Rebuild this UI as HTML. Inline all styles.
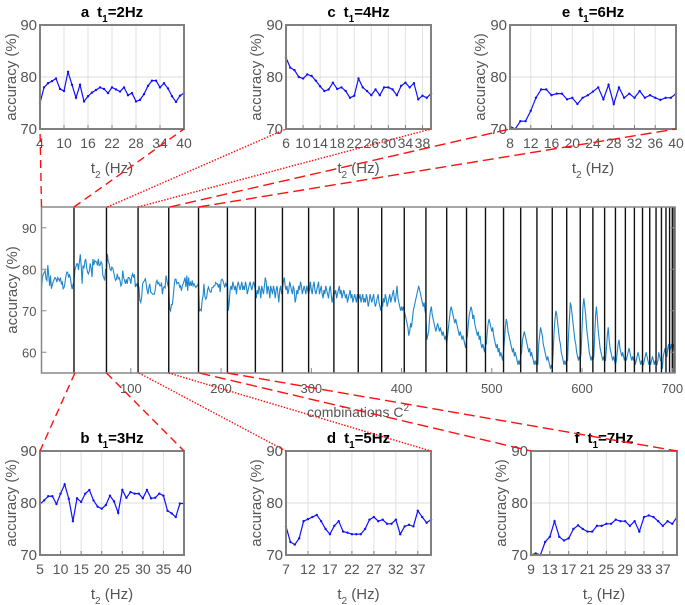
<!DOCTYPE html>
<html><head><meta charset="utf-8"><style>
html,body{margin:0;padding:0;background:#fff;}
svg{display:block;font-family:"Liberation Sans",Arial,sans-serif;}
</style></head><body>
<svg id="fig" width="685" height="605" viewBox="0 0 685 605" xmlns="http://www.w3.org/2000/svg"></svg>
<script>
// ---- panel data (t2 sweeps) ----
const panelA = [75,78,78.8,79.2,79.7,77.7,77.3,81,78.5,76,78.5,75.3,76.3,77,77.5,78,77.7,76.9,78,77.6,77.2,78,76.5,76.9,75.3,75.6,76.7,78.3,79.3,79.3,78,78.8,77.8,76.3,75.2,76.4,76.9];
const panelB = [79.8,80.5,81.3,81.3,79.8,81.8,83.6,80.8,76.5,80.9,80.2,81.8,82.5,80.5,79.3,78.9,79.6,81.4,80.3,78.1,82.5,81,82.1,81.8,81.8,80.9,82.5,80.9,81,81.8,81.4,78.5,78,77.3,79.9,79.9];
const panelC = [83.7,81.8,81.3,80,79.7,80.5,80.2,79.3,78.2,77.3,77.6,78.9,77.7,78,77.3,76,76.4,79.7,78,77.3,76.5,77.6,76.5,78,78,77.6,76.5,78.3,78.9,78,78.8,75.7,76.4,76,76.8];
const panelD = [75.5,72.5,72,73.2,76.5,76.9,77.3,77.7,76.5,75,74,75.6,76.5,74.5,74.3,74,74,74,75,76.8,77.3,76.5,76.8,76,76,76.8,74,75.5,75.8,75.5,78.5,77.3,76.2,76.8];
const panelE = [70.5,70,71.5,71.5,73.5,76,77.6,77.6,76.5,76.8,76.8,75.7,76,74.8,76,76.5,77.2,78,75.7,78.5,74.8,78,76,76.8,76,77.3,76,76.5,76,75.6,76,76,76.8];
const panelF = [70,70.3,70,72.5,73.5,76.5,73.5,72.8,73.2,75,75.7,75,74.5,74.5,75.6,75.6,76,76,76.8,76.5,76.5,75.6,76.5,74.5,77.3,77.6,77.3,76.5,75.6,76.5,76,77.3];
// ---- remaining blocks of the main series (t1 = 8 .. 38) ----
const block8 = [70,72,75,76,75,77,76,75,76,74,76,77,76,75,76,77,75,76,75,77,76,74,75,76,77,76,75,76,77,76,75];
const block9 = [73,75,74,76,75,73,76,75,74,76,78,77,74,76,75,73,76,75,74,76,75,73,75,76,74,72,75,76,74,75];
const block10 = [77,78,76,75,76,74,75,77,76,75,74,76,75,72,73,75,74,76,75,77,76,74,75,76,75,74,76,75,74];
const block11 = [75,77,75,74,76,77,75,74,75,76,77,74,75,76,74,73,75,74,76,75,74,73,75,76,74,72,73,75];
const block12 = [74,75,73,74,75,76,74,75,73,74,75,74,73,74,72,73,74,75,73,74,72,73,74,73,72,74,73];
const block13 = [73,74,72,73,74,72,73,72,74,73,71,72,74,73,72,73,74,72,71,72,73,74,72,71,70,72];
const block14 = [71,73,72,74,73,71,72,73,74,72,73,74,75,73,72,74,76,73,72,71,70,71,70,71,70];
const block15 = [69,68,67,66,64,65,67,66,68,70,71,72,73,74,75,76,75,74,73,72,71,72,70,69];
const block16 = [63,64,65,68,70,71,69,68,67,66,65,66,67,66,65,66,65,64,65,64,63,64,62];
const block17 = [64,66,68,70,71,70,69,68,67,68,67,66,65,64,65,64,63,64,63,62,61,63];
const block18 = [64,67,69,70,71,70,68,69,67,66,65,64,65,63,64,62,61,62,61,60,62];
const block19 = [62,65,67,68,67,66,65,66,64,63,62,61,62,60,61,59,60,59,58,60];
const block20 = [63,66,68,67,65,64,63,62,61,60,61,59,60,59,58,57,58,57,59];
const block21 = [60,63,64,65,64,63,62,61,60,61,59,60,59,58,57,58,57,58];
const block22 = [57,62,64,66,65,64,62,61,60,59,58,59,58,57,56,57,56];
const block23 = [60,65,68,70,69,67,65,63,62,60,59,58,57,58,57,58];
const block24 = [58,64,68,72,71,69,67,65,63,62,60,59,58,59,58];
const block25 = [60,66,71,73,71,69,66,64,62,60,59,58,59,58];
const block26 = [59,64,69,71,68,65,63,61,60,59,58,59,58];
const block27 = [58,61,64,66,63,61,60,59,58,59,58,57];
const block28 = [58,60,62,63,61,60,59,60,59,58,59];
const block29 = [58,59,60,61,60,59,58,59,58,59];
const block30 = [57,58,59,60,59,58,57,58,57];
const block31 = [57,58,59,60,59,58,57,58];
const block32 = [57,58,59,58,57,58,57];
const block33 = [57,58,60,59,58,58];
const block34 = [56,59,60,61,59];
const block35 = [59,61,62,60];
const block36 = [61,62,60];
const block37 = [62,61];
const block38 = [60];
const mainXTicks = [100,200,300,400,500,600,700];
const mainYTicks = [60,70,80,90];
const panelYTicks = [70,80,90];

const blocks = [panelA,panelB,panelC,panelD,panelE,panelF,block8,block9,block10,block11,block12,block13,block14,block15,block16,block17,block18,block19,block20,block21,block22,block23,block24,block25,block26,block27,block28,block29,block30,block31,block32,block33,block34,block35,block36,block37,block38];

const NS="http://www.w3.org/2000/svg";
const svg=document.getElementById('fig');
function mk(tag,attrs,parent){const e=document.createElementNS(NS,tag);for(const k in attrs)e.setAttribute(k,attrs[k]);(parent||svg).appendChild(e);return e;}

const mainSeries=[];const cum=[];let c=0;
blocks.forEach(b=>{b.forEach(v=>mainSeries.push(v));c+=b.length;cum.push(c);});
const N=mainSeries.length;
const M={l:41.5,r:675,t:207,b:373,xmin:1,xmax:N,ymin:55,ymax:95};
const mx=v=>M.l+(v-M.xmin)*(M.r-M.l)/(M.xmax-M.xmin);
const my=v=>M.b-(v-M.ymin)*(M.b-M.t)/(M.ymax-M.ymin);

const gMain=mk('g',{});


mk('rect',{x:M.l,y:M.t,width:M.r-M.l,height:M.b-M.t,fill:'#fff'},gMain);
let d='';mainSeries.forEach((v,i)=>{d+=(i?'L':'M')+mx(i+1).toFixed(2)+','+my(v).toFixed(2);});
const ml=mk('path',{d:d,fill:'none',stroke:'#1f86cc','stroke-width':1.1},gMain);


cum.forEach(b=>{const ln=mk('line',{x1:mx(b),x2:mx(b),y1:M.t,y2:M.b,stroke:'#111','stroke-width':1.4},gMain);

});
mk('rect',{x:M.l,y:M.t,width:M.r-M.l,height:M.b-M.t,fill:'none',stroke:'#888','stroke-width':1.5},gMain);
mainXTicks.forEach(t=>{const x=mx(t);mk('line',{x1:x,x2:x,y1:M.b,y2:M.b-5,stroke:'#888'},gMain);
const tx=mk('text',{x:x,y:M.b+20,'font-size':13,fill:'#555','text-anchor':'middle'},gMain);tx.textContent=t;

});
mainYTicks.forEach(t=>{const y=my(t);mk('line',{x1:M.l,x2:M.l+5,y1:y,y2:y,stroke:'#888'},gMain);mk('line',{x1:M.r,x2:M.r-5,y1:y,y2:y,stroke:'#888'},gMain);
const tx=mk('text',{x:M.l-5,y:y+5,'font-size':13,fill:'#555','text-anchor':'end'},gMain);tx.textContent=t;

});
const myl=mk('text',{x:0,y:0,'font-size':15,fill:'#555','text-anchor':'middle',transform:'translate(17,'+((M.t+M.b)/2)+') rotate(-90)'},gMain);
myl.textContent='accuracy (%)';


const mxl=mk('text',{x:358,y:417,'font-size':14,fill:'#555','text-anchor':'middle'},gMain);
mxl.innerHTML='combinations C<tspan dy="-6" font-size="10">2</tspan>';



const panels=[
 {id:'a',t1:2,data:panelA,x0:4,ticks:[4,10,16,22,28,34,40],l:40,r:184,t:25,b:129,top:true,blk:0,dash:'8,5',ylx:16},
 {id:'b',t1:3,data:panelB,x0:5,ticks:[5,10,15,20,25,30,35,40],l:40,r:184,t:451,b:555,top:false,blk:1,dash:'8,5',ylx:16},
 {id:'c',t1:4,data:panelC,x0:6,ticks:[6,10,14,18,22,26,30,34,38],l:286,r:431,t:25,b:129,top:true,blk:2,dash:'1.5,1.5',ylx:261},
 {id:'d',t1:5,data:panelD,x0:7,ticks:[7,12,17,22,27,32,37],l:286,r:431,t:451,b:555,top:false,blk:3,dash:'1.5,1.5',ylx:261},
 {id:'e',t1:6,data:panelE,x0:8,ticks:[8,12,16,20,24,28,32,36,40],l:510,r:676,t:25,b:129,top:true,blk:4,dash:'11,5',ylx:485},
 {id:'f',t1:7,data:panelF,x0:9,ticks:[9,13,17,21,25,29,33,37],l:531,r:677,t:451,b:555,top:false,blk:5,dash:'11,5',ylx:506}
];
panels.forEach(p=>{
 const g=mk('g',{});
 
 
 const px=v=>p.l+(v-p.x0)*(p.r-p.l)/(40-p.x0);
 const py=v=>p.b-(v-70)*(p.b-p.t)/20;
 p.ticks.forEach(t=>{mk('line',{x1:px(t),x2:px(t),y1:p.t,y2:p.b,stroke:'#e2e2e2','stroke-width':1},g);});
 mk('line',{x1:p.l,x2:p.r,y1:py(80),y2:py(80),stroke:'#dcdcdc','stroke-width':1},g);
 let pd='';p.data.forEach((v,i)=>{pd+=(i?'L':'M')+px(p.x0+i).toFixed(2)+','+py(v).toFixed(2);});
 const pl=mk('path',{d:pd,fill:'none',stroke:'#1010ff','stroke-width':1.2},g);
 
 
 p.data.forEach((v,i)=>{mk('circle',{cx:px(p.x0+i),cy:py(v),r:1.2,fill:'#1010ff'},g);});
 mk('rect',{x:p.l,y:p.t,width:p.r-p.l,height:p.b-p.t,fill:'none',stroke:'#808080','stroke-width':2},g);
 p.ticks.forEach(t=>{mk('line',{x1:px(t),x2:px(t),y1:p.b,y2:p.b-4,stroke:'#808080'},g);
  const tx=mk('text',{x:px(t),y:p.b+19,'font-size':14,fill:'#555','text-anchor':'middle'},g);tx.textContent=t;
  
  });
 panelYTicks.forEach(t=>{const tx=mk('text',{x:p.l-3,y:py(t)+5,'font-size':15,fill:'#555','text-anchor':'end'},g);tx.textContent=t;
  
  });
 const yl=mk('text',{x:0,y:0,'font-size':15,fill:'#555','text-anchor':'middle',transform:'translate('+p.ylx+','+((p.t+p.b)/2)+') rotate(-90)'},g);
 yl.textContent='accuracy (%)';
 
 
 const xl=mk('text',{x:(p.l+p.r)/2,y:p.b+44,'font-size':15,fill:'#555','text-anchor':'middle'},g);
 xl.innerHTML='t<tspan dy="5" font-size="10">2</tspan><tspan dy="-5"> (Hz)</tspan>';
 
 
 const ti=mk('text',{x:(p.l+p.r)/2,y:p.t-8,'font-size':15,'font-weight':'bold',fill:'#000','text-anchor':'middle'},g);
 ti.innerHTML=p.id+'<tspan dx="8">t</tspan><tspan dy="5" font-size="10">1</tspan><tspan dy="-5">='+p.t1+'Hz</tspan>';
 
 
 const s=(p.blk?cum[p.blk-1]+1:1), e=cum[p.blk];
 const yM=p.top?M.t:M.b, yP=p.top?p.b:p.t;
 [[mx(s),p.l],[mx(e),p.r]].forEach(([a,bx])=>{
  const cl=mk('line',{x1:a,y1:yM,x2:bx,y2:yP,stroke:'#ff1010','stroke-width':1.4,'stroke-dasharray':p.dash},svg);
  
  
 });
});
</script>
</body></html>
